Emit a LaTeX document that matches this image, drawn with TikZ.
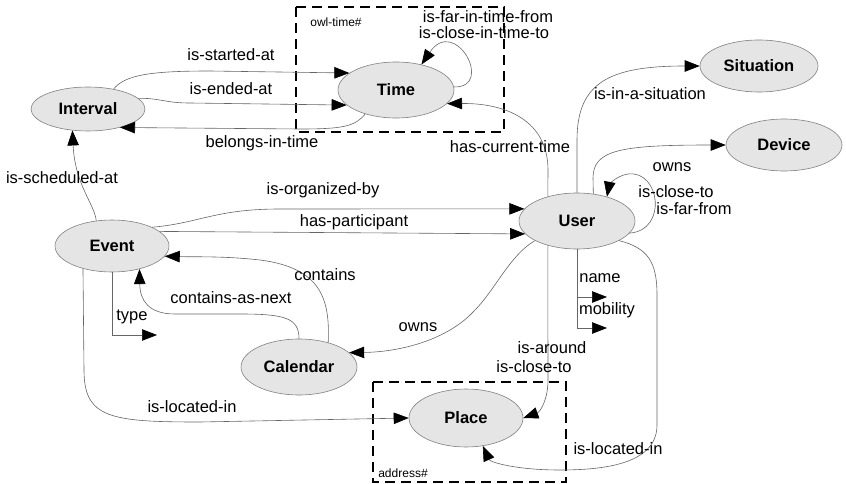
\documentclass[tikz,border=0pt]{standalone}
\usepackage{fontspec}
\setmainfont{Liberation Sans}
\usetikzlibrary{arrows.meta,shapes.geometric}
\begin{document}
\begin{tikzpicture}[x=1pt,y=-1pt,
  concept/.style={ellipse, draw=black!50, fill=black!10, line width=0.6pt, inner sep=0pt,
    font=\fontsize{16.5}{18}\selectfont\bfseries},
  rel/.style={draw=black!60, line width=0.6pt, -{Triangle[length=15pt,width=11.5pt,black]}},
  lbl/.style={inner sep=0pt, font=\fontsize{16.5}{18}\selectfont},
  nsbox/.style={draw=black, line width=1.5pt, dash pattern=on 10pt off 6pt},
  nslbl/.style={inner sep=0pt, font=\fontsize{12}{14}\selectfont}]
\useasboundingbox (0,0) rectangle (846,484);

% namespace boxes
\draw[nsbox] (296,7) rectangle (504,132);
\node[nslbl] (owl) at (336,22) {owl-time\#};
\draw[nsbox] (373,382) rectangle (566,482);
\node[nslbl] (addr) at (403,473) {address\#};

% concepts
\node[concept, minimum width=114pt, minimum height=44pt] (Interval) at (88,109) {Interval};
\node[concept, minimum width=116pt, minimum height=56pt] (Time) at (396,90) {Time};
\node[concept, minimum width=118pt, minimum height=52pt] (Situation) at (759,66) {Situation};
\node[concept, minimum width=116pt, minimum height=52pt] (Device) at (784,145) {Device};
\node[concept, minimum width=116pt, minimum height=56pt] (User) at (577,221) {User};
\node[concept, minimum width=114pt, minimum height=52pt] (Event) at (112,246) {Event};
\node[concept, minimum width=116pt, minimum height=56pt] (Calendar) at (299,367) {Calendar};
\node[concept, minimum width=114pt, minimum height=58pt] (Place) at (466,418) {Place};

% free ends of datatype properties
\coordinate (nameTip) at (607,297);
\coordinate (mobTip) at (607,328);
\coordinate (typeTip) at (157,335);

% Interval <-> Time
\draw[rel] (Interval.38) .. controls (125,75) and (150,71) .. (210,71) -- (Time.160);
\draw[rel] (Interval.12) .. controls (160,98) and (165,103) .. (190,103) -- (Time.197);
\draw[rel] (Time.218) .. controls (355,126) and (345,129) .. (300,129) -- (Interval.-30);
\draw[rel] (Time.3) .. controls (495,88) and (455,15) .. (Time.45);

% User relations
\draw[rel] (User.140) -- (548,170) .. controls (548,120) and (505,103) .. (Time.-15);
\draw[rel] (User.90) -- (577,140) .. controls (577,82) and (610,66) .. (Situation.180);
\draw[rel] (User.59) -- (593,178) .. controls (593,150) and (620,145) .. (Device.180);
\draw[rel] (User.-13) .. controls (668,230) and (660,170) .. (628,174)
  .. controls (615,176) and (609,186) .. (User.39);
\draw[rel] (User.south) |- (nameTip);
\draw[rel] (User.south) |- (mobTip);
\draw[rel] (User.205) .. controls (510,255) and (495,290) .. (475,310)
  .. controls (448,340) and (400,352) .. (Calendar.16);
\draw[rel] (User.220) -- (548,380) .. controls (548,400) and (540,412) .. (Place.0);
\draw[rel] (User.-25) .. controls (648,248) and (657,262) .. (657,295) -- (657,425)
  .. controls (657,462) and (610,470) .. (560,470)
  .. controls (515,470) and (490,462) .. (Place.-59);

% Event relations
\draw[rel] (Event.122) .. controls (95,205) and (75,185) .. (Interval.234);
\draw[rel] (Event.25) .. controls (200,223) and (215,209) .. (280,209) -- (User.167);
\draw[rel] (Event.17) -- (User.194);
\draw[rel] (Event.south) |- (typeTip);
\draw[rel] (Event.218) -- (84,370) .. controls (84,418) and (110,422) .. (200,422) -- (Place.180);

% Calendar relations
\draw[rel] (Calendar.40) .. controls (330,300) and (322,268) .. (260,260)
  .. controls (225,256) and (195,257) .. (Event.-11);
\draw[rel] (Calendar.90) .. controls (299,318) and (285,314) .. (240,314) -- (175,314)
  .. controls (148,314) and (140,300) .. (Event.-40);

% property labels
\node[lbl] (lStart) at (231,55) {is-started-at};
\node[lbl] (lEnd) at (231,89) {is-ended-at};
\node[lbl] (lBelong) at (262,143) {belongs-in-time};
\node[lbl] (lFar) at (488,17) {is-far-in-time-from};
\node[lbl] (lCloseT) at (484,33) {is-close-in-time-to};
\node[lbl] (lCur) at (510,147) {has-current-time};
\node[lbl] (lSit) at (650,94) {is-in-a-situation};
\node[lbl] (lOwnsD) at (672,167) {owns};
\node[lbl] (lCloseU) at (676,192) {is-close-to};
\node[lbl] (lFarU) at (694,209) {is-far-from};
\node[lbl] (lSched) at (62,178) {is-scheduled-at};
\node[lbl] (lOrg) at (323,190) {is-organized-by};
\node[lbl] (lPart) at (354,222) {has-participant};
\node[lbl] (lCont) at (325,275) {contains};
\node[lbl] (lNext) at (231,298) {contains-as-next};
\node[lbl] (lType) at (132,317) {type};
\node[lbl] (lName) at (600,278) {name};
\node[lbl] (lMob) at (607,310) {mobility};
\node[lbl] (lOwnsC) at (418,327) {owns};
\node[lbl] (lAround) at (552,348) {is-around};
\node[lbl] (lCloseP) at (534,367) {is-close-to};
\node[lbl] (lLocE) at (192,407) {is-located-in};
\node[lbl] (lLocU) at (618,449) {is-located-in};
\end{tikzpicture}
\end{document}
